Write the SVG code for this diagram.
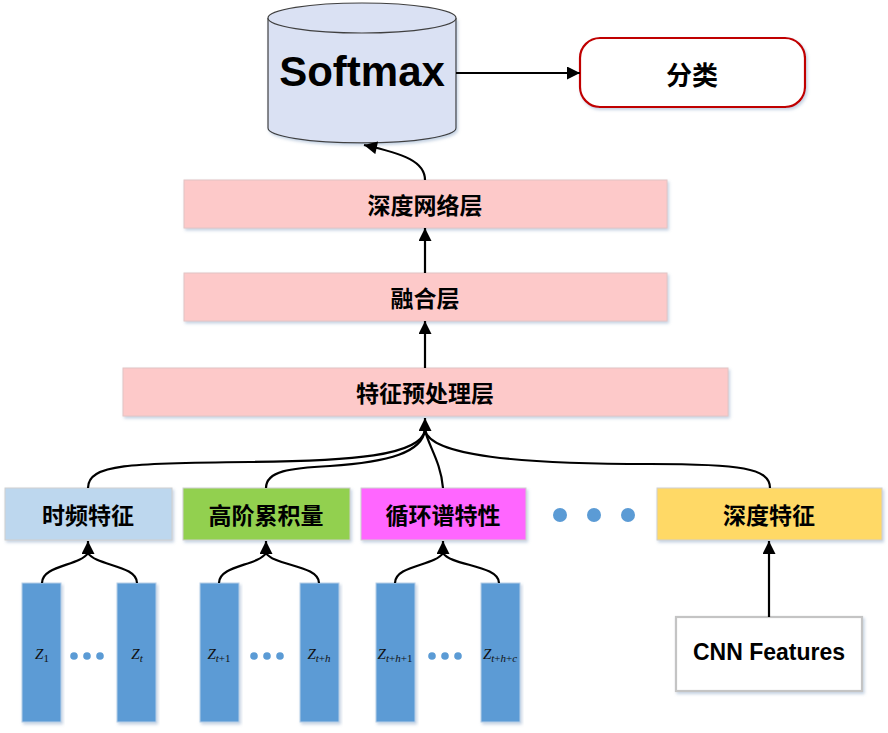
<svg xmlns="http://www.w3.org/2000/svg" width="888" height="733" viewBox="0 0 888 733">
<defs>
<filter id="sh" x="-10%" y="-10%" width="120%" height="130%">
<feDropShadow dx="1.5" dy="2" stdDeviation="1.5" flood-color="#7f9cc0" flood-opacity="0.45"/>
</filter>
<marker id="ah" viewBox="0 0 10 10" refX="10" refY="5" markerUnits="userSpaceOnUse" markerWidth="14" markerHeight="13" orient="auto">
<path d="M0,0 L10,5 L0,10 z" fill="#000"/>
</marker>
</defs>
<style>
.cn{font-family:"Noto Sans CJK SC",sans-serif;font-weight:bold;font-size:23px;fill:#000;text-anchor:middle;dominant-baseline:central}
.layer{fill:#fdc9c9;stroke:#e2c4c4;stroke-width:1;filter:url(#sh)}
.feat{stroke:#cfcfcf;stroke-width:1;filter:url(#sh)}
.bar{fill:#5b9bd5;stroke:#b8cfe8;stroke-width:1;filter:url(#sh)}
.z{font-family:"Liberation Serif",serif;font-size:15px;font-style:italic;fill:#111;text-anchor:middle}
.sub{font-size:11px}
.up{font-style:normal}
.dot{fill:#5b9bd5}
.conn{fill:none;stroke:#000;stroke-width:2.2}
</style>

<g id="softmax">
<path d="M268,18 L268,128 A88,14 0 0 0 456,128 L456,18" fill="#dae1f3" stroke="#404040" stroke-width="1.2" filter="url(#sh)"/>
<ellipse cx="362" cy="18" rx="94" ry="15" fill="#dae1f3" stroke="#404040" stroke-width="1.2"/>
<text x="362" y="86" font-family="Liberation Sans,Arial,sans-serif" font-weight="bold" font-size="42" text-anchor="middle" fill="#000">Softmax</text>
</g>

<g id="classify">
<rect x="580" y="38" width="225" height="69" rx="20" ry="20" fill="#fff" stroke="#c00000" stroke-width="2.2" filter="url(#sh)"/>
<text x="692" y="73" class="cn" style="font-size:26px">分类</text>
</g>

<g id="deepnet">
<rect x="184" y="180" width="483" height="48" class="layer"/>
<text x="425" y="204" class="cn">深度网络层</text>
</g>
<g id="fusion">
<rect x="184" y="273" width="483" height="48" class="layer"/>
<text x="425" y="297" class="cn">融合层</text>
</g>
<g id="preproc">
<rect x="123" y="368" width="605" height="48" class="layer"/>
<text x="425" y="392" class="cn">特征预处理层</text>
</g>

<g id="tf">
<rect x="5" y="488" width="167" height="52" class="feat" fill="#bdd7ee"/>
<text x="88" y="514" class="cn">时频特征</text>
</g>
<g id="hoc">
<rect x="183" y="488" width="167" height="52" class="feat" fill="#92d050"/>
<text x="266" y="514" class="cn">高阶累积量</text>
</g>
<g id="cyclic">
<rect x="361" y="488" width="165" height="52" class="feat" fill="#ff66ff"/>
<text x="443" y="514" class="cn">循环谱特性</text>
</g>
<g id="ellipsis">
<circle cx="560" cy="515" r="7" class="dot"/>
<circle cx="594" cy="515" r="7" class="dot"/>
<circle cx="628" cy="515" r="7" class="dot"/>
</g>
<g id="deepfeat">
<rect x="657" y="488" width="225" height="52" class="feat" fill="#ffd966"/>
<text x="769" y="514" class="cn">深度特征</text>
</g>

<g id="cnn">
<rect x="676" y="617" width="186" height="74" fill="#fff" stroke="#c4c4c4" stroke-width="2.2" filter="url(#sh)"/>
<text x="769" y="660" font-family="Liberation Sans,Arial,sans-serif" font-weight="bold" font-size="23" text-anchor="middle" fill="#000">CNN Features</text>
</g>

<g id="bars">
<rect x="22" y="583" width="39" height="139" class="bar"/>
<rect x="117" y="583" width="39" height="139" class="bar"/>
<rect x="200" y="583" width="39" height="139" class="bar"/>
<rect x="300" y="583" width="39" height="139" class="bar"/>
<rect x="376" y="583" width="39" height="139" class="bar"/>
<rect x="481" y="583" width="39" height="139" class="bar"/>
<text x="42" y="659" class="z">Z<tspan class="sub up" dy="3">1</tspan></text>
<text x="137" y="659" class="z">Z<tspan class="sub" dy="3">t</tspan></text>
<text x="219" y="659" class="z">Z<tspan class="sub" dy="3">t</tspan><tspan class="sub up">+1</tspan></text>
<text x="319" y="659" class="z">Z<tspan class="sub" dy="3">t</tspan><tspan class="sub up">+</tspan><tspan class="sub">h</tspan></text>
<text x="395" y="659" class="z">Z<tspan class="sub" dy="3">t</tspan><tspan class="sub up">+</tspan><tspan class="sub">h</tspan><tspan class="sub up">+1</tspan></text>
<text x="500" y="659" class="z">Z<tspan class="sub" dy="3">t</tspan><tspan class="sub up">+</tspan><tspan class="sub">h</tspan><tspan class="sub up">+</tspan><tspan class="sub">c</tspan></text>
<circle cx="74" cy="656" r="3.8" class="dot"/>
<circle cx="87" cy="656" r="3.8" class="dot"/>
<circle cx="100" cy="656" r="3.8" class="dot"/>
<circle cx="254" cy="656" r="3.8" class="dot"/>
<circle cx="267" cy="656" r="3.8" class="dot"/>
<circle cx="280" cy="656" r="3.8" class="dot"/>
<circle cx="432" cy="656" r="3.8" class="dot"/>
<circle cx="445" cy="656" r="3.8" class="dot"/>
<circle cx="458" cy="656" r="3.8" class="dot"/>
</g>

<g id="connectors">
<path class="conn" d="M456,73 L580,73" marker-end="url(#ah)"/>
<path class="conn" d="M425,180 C425,162 405,154 364,145" marker-end="url(#ah)"/>
<path class="conn" d="M425,273 L425,228" marker-end="url(#ah)"/>
<path class="conn" d="M425,368 L425,321" marker-end="url(#ah)"/>
<path class="conn" d="M88,488 C88,464 130,463 250,462 C350,461 421,456 425,430"/>
<path class="conn" d="M266,488 C266,471 290,468 330,466 C390,462 422,452 425,430"/>
<path class="conn" d="M443,488 C441,462 428,445 425,430"/>
<path class="conn" d="M770,488 C770,468 740,464 650,464 C520,464 430,456 425,430"/>
<path class="conn" d="M425,432 L425,418" marker-end="url(#ah)"/>
<path class="conn" d="M42,583 C42,565 80,566 88,553"/>
<path class="conn" d="M137,583 C137,565 96,566 88,553"/>
<path class="conn" d="M88,555 L88,541" marker-end="url(#ah)"/>
<path class="conn" d="M219,583 C219,565 258,566 266,553"/>
<path class="conn" d="M319,583 C319,565 274,566 266,553"/>
<path class="conn" d="M266,555 L266,541" marker-end="url(#ah)"/>
<path class="conn" d="M395,583 C395,565 435,566 443,553"/>
<path class="conn" d="M499,583 C499,565 451,566 443,553"/>
<path class="conn" d="M443,555 L443,541" marker-end="url(#ah)"/>
<path class="conn" d="M769,617 L769,541" marker-end="url(#ah)"/>
</g>
</svg>
